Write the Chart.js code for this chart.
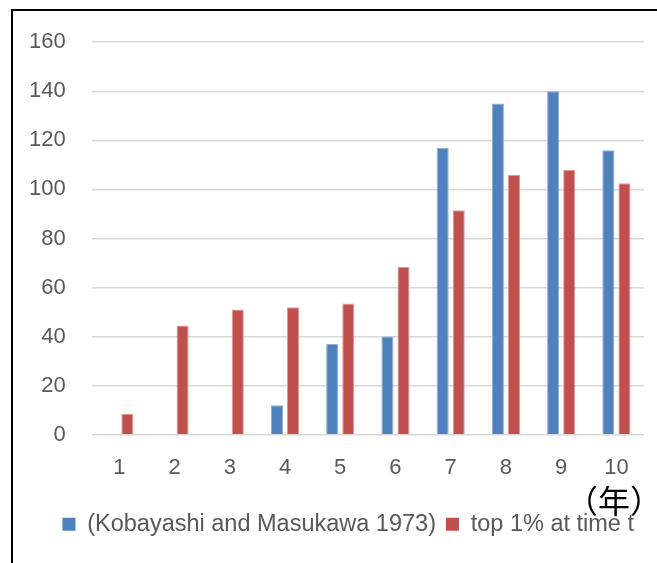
<!DOCTYPE html>
<html>
<head>
<meta charset="utf-8">
<script src="https://cdn.jsdelivr.net/npm/chart.js@4"></script>
<style>
  html, body { margin: 0; padding: 0; background: #fff; overflow: hidden; }
  #frame { position: absolute; left: 11px; top: 9px; width: 700px; height: 600px;
           border-left: 2px solid #000; border-top: 2px solid #000; }
  #wrap { position: absolute; left: 0; top: 3px; width: 657px; height: 560px; }
</style>
</head>
<body>
<div id="frame"></div>
<div id="wrap"><canvas id="grafico"></canvas></div>
<script>
// dados do gráfico
const anos = ['1', '2', '3', '4', '5', '6', '7', '8', '9', '10'];
const serieKobayashi = [0, 0, 0, 12, 37, 40, 117, 135, 140, 116];
const serieTop1 = [8.5, 44.5, 51, 52, 53.5, 68.5, 91.5, 106, 108, 102.5];
const nomesSeries = ['(Kobayashi and Masukawa 1973)', 'top 1% at time t'];
const unidadeX = '（年）';

const fonte = "'Liberation Sans', Arial, sans-serif";
const cinzaTexto = '#595959';

// desenha a unidade do eixo x um pouco à direita do fim do eixo
const tituloEixoX = {
    id: 'tituloEixoX',
    afterDraw(chart) {
        const eixo = chart.scales.x;
        const c = chart.ctx;
        c.save();
        c.font = "32px 'Noto Sans CJK JP', sans-serif";
        c.fillStyle = '#000';
        c.textAlign = 'right';
        c.textBaseline = 'middle';
        c.fillText(unidadeX, eixo.right + 18, eixo.top + 66);
        c.restore();
    }
};

const ctx = document.getElementById('grafico').getContext('2d');
new Chart(ctx, {
    type: 'bar',
    data: {
        labels: anos,
        datasets: [{
            label: nomesSeries[0],
            data: serieKobayashi,
            backgroundColor: '#4F81BD',
            borderColor: '#8EADD6',
            borderWidth: 1,
            categoryPercentage: 0.582,
            barPercentage: 0.75
        }, {
            label: nomesSeries[1],
            data: serieTop1,
            backgroundColor: '#C0504D',
            borderColor: '#E09896',
            borderWidth: 1,
            categoryPercentage: 0.582,
            barPercentage: 0.75
        }]
    },
    options: {
        responsive: true,
        maintainAspectRatio: false,
        animation: false,
        layout: { padding: { top: 33, right: 13, bottom: 17, left: 3 } },
        plugins: {
            tooltip: { enabled: false },
            legend: {
                position: 'bottom',
                align: 'end',
                labels: {
                    boxWidth: 13,
                    boxHeight: 13,
                    padding: 10,
                    color: cinzaTexto,
                    font: { family: fonte, size: 23.5 },
                    generateLabels: chart => chart.data.datasets.map((ds, i) => ({
                        text: ds.label,
                        fillStyle: ds.backgroundColor,
                        strokeStyle: ds.backgroundColor,
                        lineWidth: 0,
                        fontColor: cinzaTexto,
                        datasetIndex: i
                    }))
                }
            }
        },
        scales: {
            x: {
                grid: { display: false },
                border: { display: false },
                ticks: { color: cinzaTexto, font: { family: fonte, size: 22 }, padding: 12 },
                title: {
                    // só reserva espaço; o texto é desenhado pelo plugin
                    display: true,
                    text: unidadeX,
                    color: 'rgba(0,0,0,0)',
                    font: { size: 7 },
                    padding: { top: 1, bottom: 0 }
                }
            },
            y: {
                min: 0,
                max: 160,
                ticks: { stepSize: 20, color: cinzaTexto, font: { family: fonte, size: 22 }, padding: 26 },
                grid: { color: '#D9D9D9', lineWidth: 1.5, drawTicks: false },
                border: { display: false }
            }
        }
    },
    plugins: [tituloEixoX]
});
</script>
</body>
</html>
